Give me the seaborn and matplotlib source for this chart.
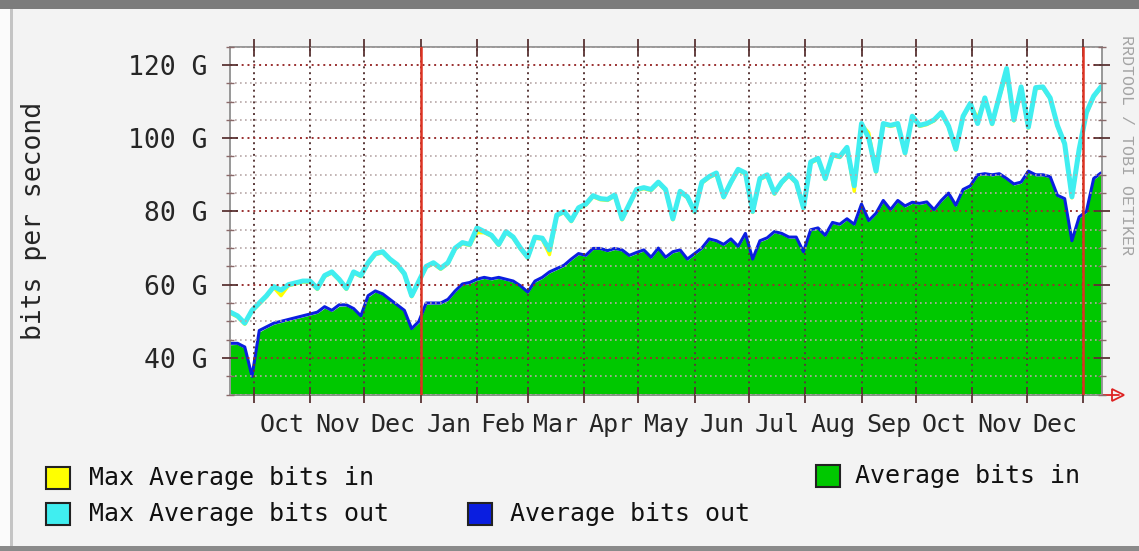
import pandas as pd
import seaborn as sns
import matplotlib.pyplot as plt
from matplotlib.patches import Rectangle
from matplotlib.ticker import MultipleLocator, FuncFormatter

# traffic samples, one every 4 days starting 2006-09-18 (values in Gbit/s)
start_day = '2006-09-18'
step = '4D'

avg_in = [43.6, 43.7, 42.6, 35.5, 47.1, 48.2, 49.2, 49.7, 50.2, 50.7, 51.2, 51.7, 52.2, 53.6, 52.7, 54.1,
          54.2, 53.2, 51.2, 56.6, 58, 57.2, 55.7, 54.2, 52.7, 47.8, 49.6, 54.6, 54.7, 54.7, 55.7, 58,
          59.9, 60.3, 61.2, 61.7, 61.3, 61.7, 61.2, 60.7, 59.4, 57.7, 60.7, 61.7, 63.2, 64.1,
          65, 66.7, 68.2, 67.7, 69.6, 69.6, 69, 69.6, 69.2, 67.7, 68.5, 69.2, 67.2, 69.7, 67.2,
          68.7, 69.2, 66.7, 68.2, 69.7, 72.2, 71.7, 70.7, 72.2, 70.2, 73.6, 66.8, 71.7, 72.5,
          74.2, 73.7, 72.7, 72.7, 68.8, 74.7, 75.2, 73.2, 76.7, 76.2, 77.7, 76.2, 81.5, 77.2,
          79.2, 82.6, 80.2, 82.7, 81.2, 82.2, 81.9, 82.3, 80.2, 82.7, 84.7, 81.4, 85.7, 86.7,
          89.7, 90, 89.7, 90, 88.7, 87.2, 87.7, 90.7, 89.7, 89.7, 89.2, 84.1, 83.2, 72.6,
          78.2, 79.7, 88.7, 90.2]

avg_out = [44, 44, 43, 35, 47.5, 48.5, 49.5, 50, 50.5, 51, 51.5, 52, 52.5, 54, 53, 54.5,
           54.5, 53.5, 51.5, 57, 58.3, 57.5, 56, 54.5, 53, 48, 50, 55, 55, 55, 56, 58.3,
           60.2, 60.6, 61.5, 62, 61.6, 62, 61.5, 61, 59.7, 58, 61, 62, 63.5, 64.4,
           65.3, 67, 68.5, 68, 69.9, 69.9, 69.3, 69.9, 69.5, 68, 68.8, 69.5, 67.5, 70, 67.5,
           69, 69.5, 67, 68.5, 70, 72.5, 72, 71, 72.5, 70.5, 74, 67, 72, 72.8,
           74.5, 74, 73, 73, 69, 75, 75.5, 73.5, 77, 76.5, 78, 76.5, 82, 77.5,
           79.5, 83, 80.5, 83, 81.5, 82.5, 82.2, 82.6, 80.5, 83, 85, 81.7, 86, 87,
           90, 90.3, 90, 90.3, 89, 87.5, 88, 91, 90, 90, 89.5, 84.4, 83.5, 72,
           78.5, 80, 89, 90.5]

max_in = [52.2, 51.2, 49.2, 52.7, 54.7, 56.7, 59.2, 57, 59.7, 60.2, 60.7, 60.7, 58.7, 62.2, 63.2, 61.2,
          58.7, 63.2, 62.2, 65.7, 68.2, 68.7, 66.7, 65.2, 62.7, 56.7, 60.7, 64.7, 65.7, 64.2, 65.7, 69.7,
          71.2, 70.7, 74.2, 74.2, 73.2, 70.7, 74.2, 72.7, 69.7, 67.2, 72.7, 72.4, 68.2, 78.7,
          79.7, 77.2, 80.7, 81.7, 84, 83.2, 83, 84.2, 77.7, 81.7, 85.7, 86.2, 85.7, 87.7, 85.7,
          77.7, 85.2, 83.7, 79.7, 87.7, 89.2, 90.2, 83.7, 87.7, 91.2, 90.2, 79.7, 88.7, 89.7,
          84.7, 87.7, 89.7, 87.7, 80.7, 93.2, 94.2, 88.7, 95.2, 94.7, 97.2, 85.5, 103.7, 101.5,
          90.7, 103.7, 103.2, 103.7, 95.7, 105.7, 103.2, 103.7, 104.7, 106.7, 103, 96.7, 105.7, 109.2,
          105.5, 110.7, 103.7, 111.2, 117.5, 104.7, 113.7, 102.7, 113.5, 113.7, 110.7, 103.2, 98.2, 83.7,
          96.7, 106.7, 111.2, 113.7]

max_out = [52.5, 51.5, 49.5, 53, 55, 57, 59.5, 58.5, 60, 60.5, 61, 61, 59, 62.5, 63.5, 61.5,
           59, 63.5, 62.5, 66, 68.5, 69, 67, 65.5, 63, 57, 61, 65, 66, 64.5, 66, 70,
           71.5, 71, 75.5, 74.5, 73.5, 71, 74.5, 73, 70, 67.5, 73, 72.7, 69.5, 79,
           80, 77.5, 81, 82, 84.3, 83.5, 83.3, 84.5, 78, 82, 86, 86.5, 86, 88, 86,
           78, 85.5, 84, 80, 88, 89.5, 90.5, 84, 88, 91.5, 90.5, 80, 89, 90,
           85, 88, 90, 88, 81, 93.5, 94.5, 89, 95.5, 95, 97.5, 87, 104, 100,
           91, 104, 103.5, 104, 96, 106, 103.5, 104, 105, 107, 103.3, 97, 106, 109.5,
           104, 111, 104, 111.5, 119, 105, 114, 103, 113.8, 114, 111, 103.5, 98.5, 84,
           97, 107, 111.5, 114]

month_labels = ['Oct', 'Nov', 'Dec', 'Jan', 'Feb', 'Mar', 'Apr', 'May', 'Jun', 'Jul',
                'Aug', 'Sep', 'Oct', 'Nov', 'Dec']
y_ticks = [40, 60, 80, 100, 120]
legend_labels = ['Max Average bits in', 'Average bits in',
                 'Max Average bits out', 'Average bits out']
legend_colors = ['#ffff00', '#00c800', '#40eef0', '#0a1ee0']

assert len(avg_in) == len(avg_out) == len(max_in) == len(max_out)

df = pd.DataFrame({
    'date': pd.date_range(start_day, periods=len(avg_in), freq=step),
    'avg_in': avg_in, 'avg_out': avg_out, 'max_in': max_in, 'max_out': max_out,
})

sns.set_style('white')
plt.rcParams['font.family'] = ['DejaVu Sans Mono']

W, H = 1139, 551
fig = plt.figure(figsize=(W / 100, H / 100), dpi=100, facecolor='#f3f3f3')
ax = fig.add_axes([229.5 / W, 1 - 394.6 / H, 872.5 / W, 348 / H])
ax.set_facecolor('white')

# data
ax.fill_between(df['date'], 0, df['avg_in'], color=legend_colors[1], lw=0, zorder=1)
sns.lineplot(data=df, x='date', y='avg_out', ax=ax, color=legend_colors[3], lw=2.2, zorder=1.5)
sns.lineplot(data=df, x='date', y='max_in', ax=ax, color=legend_colors[0], lw=2.4, zorder=1.7)
sns.lineplot(data=df, x='date', y='max_out', ax=ax, color=legend_colors[2], lw=3.6, zorder=1.9)

# axes ranges
ax.set_xlim(pd.Timestamp('2006-09-17 14:00'), pd.Timestamp('2008-01-11 14:00'))
ax.set_ylim(30, 125)

# y axis
ax.yaxis.set_minor_locator(MultipleLocator(5))
ax.set_yticks(y_ticks)
ax.yaxis.set_major_formatter(FuncFormatter(lambda v, p: f'{v:.0f} G'))
ax.set_ylabel('bits per second', fontsize=19)
ax.yaxis.set_label_coords(-0.209, 0.5)

# x axis: gridlines at month starts, labels at mid month
month_starts = pd.date_range('2006-10-01', '2008-01-01', freq='MS')
mid_months = month_starts[:-1] + (month_starts[1:] - month_starts[:-1]) / 2
ax.set_xticks(month_starts)
ax.set_xticklabels([''] * len(month_starts))
ax.set_xticks(mid_months, minor=True)
ax.set_xticklabels(month_labels, minor=True, fontsize=18)
ax.set_xlabel('')

ax.tick_params(axis='y', which='major', labelsize=19, pad=10)
ax.tick_params(axis='both', which='major', direction='inout', length=12, width=1.3,
               color='#5a3434', top=True, right=True, left=True, bottom=True)
ax.tick_params(axis='y', which='minor', direction='inout', length=6, width=1,
               color='#8a6a6a', left=True, right=True)
ax.tick_params(axis='x', which='minor', length=0, pad=13)

# grid drawn over data like rrdtool
ax.set_axisbelow(False)
ax.yaxis.grid(True, which='minor', color='#b8a8a8', lw=1.2, linestyle=(0, (1, 2)))
ax.yaxis.grid(True, which='major', color='#9a3030', lw=1.4, linestyle=(0, (1, 2)))
ax.xaxis.grid(True, which='major', color='#5a3a3a', lw=1.4, linestyle=(0, (1, 2)))
ax.xaxis.grid(False, which='minor')

for yr in ['2007-01-01', '2008-01-01']:
    ax.axvline(pd.Timestamp(yr), color='#dd3322', lw=1.8, zorder=3)

for side in ['left', 'right', 'top', 'bottom']:
    ax.spines[side].set_color('#909090')
    ax.spines[side].set_linewidth(1.3)

# arrow at the end of the x axis
ax.plot([1.0, 1.02], [0, 0], transform=ax.transAxes, color='#dd2222', lw=1.3, clip_on=False)
ax.plot([1.018], [0], transform=ax.transAxes, marker='>', ms=9, mfc='none', mec='#dd2222',
        mew=1.3, clip_on=False)

# legend, laid out as in rrdtool
sq_w, sq_h = 24, 22
legend_pos = [(46, 467, 89), (816, 465, 855), (46, 503, 89), (468, 503, 510)]
for (sx, sy, tx), lab, col in zip(legend_pos, legend_labels, legend_colors):
    fig.patches.append(Rectangle((sx / W, 1 - (sy + sq_h) / H), sq_w / W, sq_h / H,
                                 transform=fig.transFigure, facecolor=col,
                                 edgecolor='#222222', lw=1.5))
    fig.text(tx / W, 1 - (sy + sq_h / 2) / H, lab, fontsize=18, ha='left', va='center',
             color='#111111')

fig.text(1127 / W, 1 - 145 / H, 'RRDTOOL / TOBI OETIKER', rotation=270, ha='center',
         va='center', fontsize=12, color='#a4a4a4', family='Liberation Mono')

# window frame around the graph
fig.patches.append(Rectangle((0, 1 - 9 / H), 1, 9 / H, transform=fig.transFigure,
                             color='#7c7c7c', lw=0))
fig.patches.append(Rectangle((0, 0), 1, 5 / H, transform=fig.transFigure,
                             color='#8a8a8a', lw=0))
fig.patches.append(Rectangle((0, 0), 10 / W, 1, transform=fig.transFigure,
                             color='#fbfbfb', lw=0, zorder=-1))
fig.patches.append(Rectangle((10 / W, 5 / H), 3 / W, 1 - 14 / H, transform=fig.transFigure,
                             color='#c4c4c4', lw=0))

fig.savefig('out.png', dpi=100, facecolor=fig.get_facecolor())
